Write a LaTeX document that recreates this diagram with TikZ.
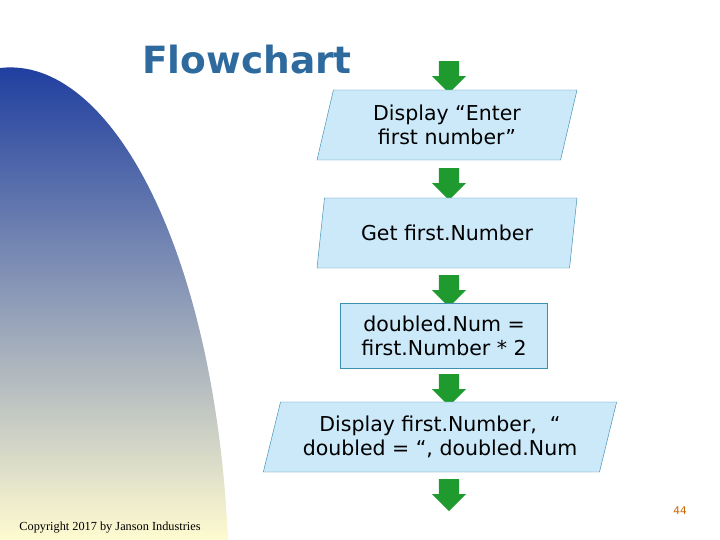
\documentclass[tikz,border=0pt]{standalone}
\usepackage{fontspec}
\setmainfont{DejaVu Sans}
\usetikzlibrary{shapes.geometric,shapes.arrows}
\definecolor{boxfill}{HTML}{CCE9FA}
\definecolor{boxline}{HTML}{3E8FB0}
\definecolor{arrowgreen}{HTML}{1E9A2E}
\definecolor{titleblue}{HTML}{2E6A9E}
\definecolor{shadetop}{HTML}{1A3A9E}
\definecolor{shademid}{HTML}{A9ACB4}
\definecolor{shadebot}{HTML}{FFFBD0}
\begin{document}
\begin{tikzpicture}[x=0.03cm,y=-0.03cm,
  io box/.style={trapezium,trapezium left angle=70,trapezium right angle=110,
    trapezium stretches body,draw=boxline,fill=boxfill,align=center,
    minimum width=7.8cm,minimum height=2.1cm,inner sep=2pt,font=\fontsize{17.5}{21}\selectfont},
  step box/.style={rectangle,draw=boxline,fill=boxfill,align=center,
    minimum width=6.2cm,minimum height=1.95cm,font=\fontsize{17.5}{21}\selectfont},
  flow arrow/.style={single arrow,fill=arrowgreen,rotate=270,inner sep=0.3cm,
    minimum height=0.96cm,single arrow head extend=0.2cm,single arrow head indent=0pt}]
  \useasboundingbox (0,0) rectangle (720,540);
  % shaded backdrop on the left
  \shade[top color=shadetop,middle color=shademid,bottom color=shadebot]
    (0,540) -- (0,68) .. controls (110,55) and (215,250) .. (228,540) -- cycle;
  \node[font=\bfseries\fontsize{32}{36}\selectfont,text=titleblue] (title) at (247,60) {Flowchart};
  % arrows
  \node[flow arrow] (a1) at (449,72) {};
  \node[flow arrow] (a2) at (449,179) {};
  \node[flow arrow] (a3) at (449,286) {};
  \node[flow arrow] (a4) at (449,385) {};
  \node[flow arrow] (a5) at (449,490) {};
  % steps
  \node[io box] (s1) at (447,125) {Display “Enter\\first number”};
  \node[io box] (s2) at (447,233) {Get first.Number};
  \node[step box] (s3) at (444,336) {doubled.Num =\\first.Number * 2};
  \node[io box,minimum width=10.6cm] (s4) at (440,437) {Display first.Number,\ \ “\\doubled = “, doubled.Num};
  \node[text=orange!80!black,font=\small] (page) at (680,511) {44};
  \node[font=\fontspec{Liberation Serif}\fontsize{10.5}{12}\selectfont] (copy) at (110,528) {Copyright 2017 by Janson Industries};
\end{tikzpicture}
\end{document}
